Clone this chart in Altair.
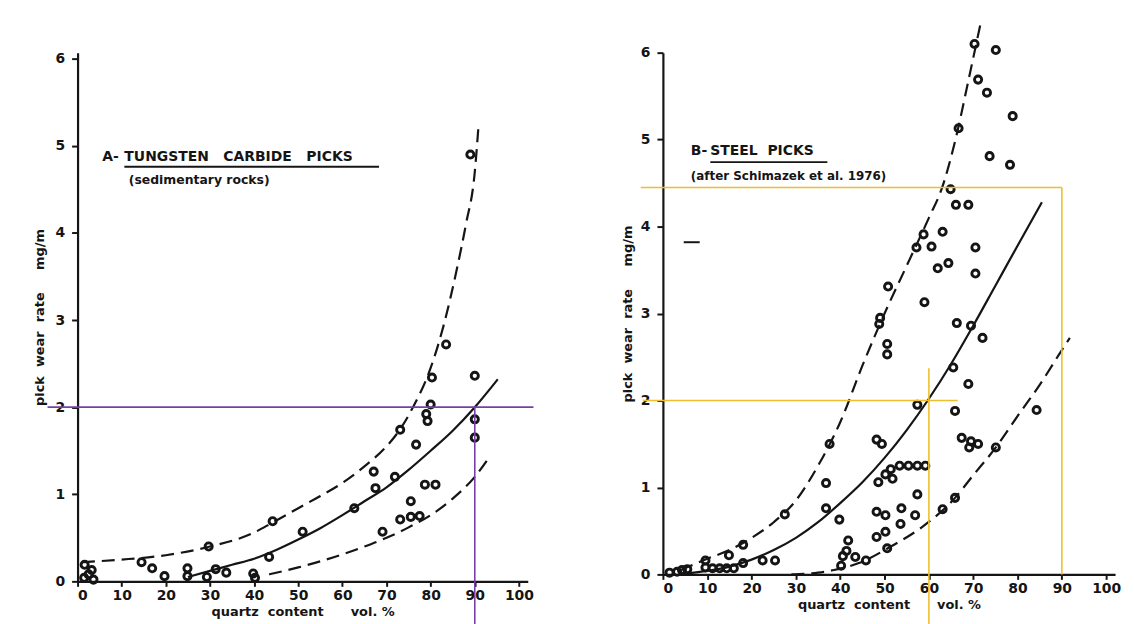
import altair as alt
import pandas as pd

FONT = "DejaVu Sans"
INK = "#151515"
PURPLE = "#7440a8"
YELLOW = "#eebf2c"

# ---------------- Panel A : tungsten carbide picks ----------------
a_pts_x = [90, 90, 90, 89, 83.5, 80.3, 80, 79, 79.3, 73.1, 76.7, 67.1, 67.5, 71.9, 78.7, 81.1,
           75.5, 73.1, 75.5, 77.5, 69.1, 62.7, 51.0, 44.2, 43.4, 29.7, 14.5, 16.9, 1.6, 3.2,
           1.5, 3.6, 19.7, 24.9, 24.9, 29.3, 31.3, 33.7, 39.8, 40.2, 2.5]
a_pts_y = [2.36, 1.86, 1.65, 4.9, 2.72, 2.34, 2.03, 1.92, 1.84, 1.74, 1.57, 1.26, 1.07, 1.2, 1.11, 1.11,
           0.92, 0.71, 0.74, 0.75, 0.57, 0.84, 0.57, 0.69, 0.28, 0.40, 0.22, 0.15, 0.19, 0.13,
           0.04, 0.02, 0.06, 0.15, 0.06, 0.05, 0.14, 0.10, 0.09, 0.04, 0.08]

a_mid_x = [25, 30, 35, 40, 45, 50, 55, 60, 65, 70, 75, 80, 85, 90, 95.2]
a_mid_y = [0.05, 0.12, 0.19, 0.26, 0.36, 0.48, 0.61, 0.76, 0.92, 1.08, 1.28, 1.5, 1.73, 2.0, 2.32]
a_up_x = [1, 10, 20, 30, 40, 44, 50, 55, 60, 65, 70, 73, 76, 80, 83, 86, 88, 90, 90.8]
a_up_y = [0.22, 0.25, 0.3, 0.4, 0.56, 0.67, 0.84, 0.98, 1.13, 1.32, 1.55, 1.74, 2.0, 2.45, 2.95, 3.6, 4.1, 4.7, 5.2]
a_lo_x = [43.4, 50, 55, 60, 65, 70, 75, 80, 85, 90, 93.6]
a_lo_y = [0.08, 0.16, 0.23, 0.31, 0.4, 0.5, 0.62, 0.76, 0.95, 1.2, 1.45]

# guide lines (x, x2, y, y2)
a_guide_x = [-6.8, 90]
a_guide_x2 = [103.3, 90]
a_guide_y = [2, 2]
a_guide_y2 = [2, -0.5]

# ---------------- Panel B : steel picks ----------------
b_pts_x = [70.3, 75.1, 71.1, 73.1, 78.9, 66.7, 73.7, 78.3, 64.9, 66.1, 68.9, 58.8, 63.1, 57.2, 60.6,
           70.5, 62.0, 64.4, 70.5, 50.8, 59.0, 49.0, 48.8, 50.6, 50.6, 66.3, 69.5, 72.1, 65.5, 68.9,
           57.4, 65.9, 84.3, 48.2, 49.4, 67.4, 69.5, 71.1, 69.1, 75.1, 37.6, 48.6, 50.2, 51.4, 53.4,
           55.4, 57.4, 59.2, 51.8, 36.8, 57.4, 65.9, 36.8, 27.5, 39.8, 48.2, 50.2, 53.8, 53.6, 56.9,
           63.1, 48.2, 50.2, 50.6, 41.8, 41.4, 40.6, 40.2, 43.4, 45.8, 18.1, 14.9, 22.5, 25.3, 18.1,
           9.6, 9.6, 11.2, 12.8, 14.4, 16.0, 4.3, 5.5, 3.2, 1.5]
b_pts_y = [6.10, 6.03, 5.69, 5.54, 5.27, 5.13, 4.81, 4.71, 4.43, 4.25, 4.25, 3.91, 3.94, 3.76, 3.77,
           3.76, 3.52, 3.58, 3.46, 3.31, 3.13, 2.95, 2.88, 2.65, 2.53, 2.89, 2.86, 2.72, 2.38, 2.19,
           1.95, 1.88, 1.89, 1.55, 1.50, 1.57, 1.53, 1.50, 1.46, 1.46, 1.50, 1.06, 1.15, 1.21, 1.25,
           1.25, 1.25, 1.25, 1.10, 1.05, 0.92, 0.88, 0.76, 0.69, 0.63, 0.72, 0.68, 0.76, 0.58, 0.68,
           0.75, 0.43, 0.49, 0.30, 0.39, 0.27, 0.21, 0.10, 0.20, 0.16, 0.34, 0.22, 0.16, 0.16, 0.13,
           0.16, 0.08, 0.07, 0.07, 0.07, 0.07, 0.05, 0.06, 0.03, 0.02]

b_mid_x = [5, 10, 15, 20, 25, 30, 35, 40, 45, 50, 55, 60, 65, 70, 75, 80, 85.5]
b_mid_y = [0.01, 0.04, 0.09, 0.17, 0.28, 0.42, 0.6, 0.82, 1.06, 1.34, 1.66, 2.02, 2.42, 2.86, 3.32, 3.78, 4.28]
b_up_x = [4, 10, 15, 20, 25, 30, 35, 40, 45, 50, 55, 60, 63, 66, 69, 71.8]
b_up_y = [0.05, 0.18, 0.28, 0.42, 0.6, 0.85, 1.25, 1.75, 2.4, 3.0, 3.55, 4.1, 4.45, 5.0, 5.7, 6.37]
b_lo_x = [29, 35, 38.6, 44.2, 51.4, 58.6, 65.9, 70, 75.1, 80, 85, 90, 91.8]
b_lo_y = [0.0, 0.02, 0.05, 0.13, 0.32, 0.55, 0.88, 1.14, 1.46, 1.82, 2.18, 2.58, 2.72]

b_guide_x = [-5, 90, -4.5, 60]
b_guide_x2 = [90, 90, 66.5, 60]
b_guide_y = [4.45, 4.45, 2, 2.37]
b_guide_y2 = [4.45, 0, 2, -0.57]

b_stray_x, b_stray_x2, b_stray_y = [4.7], [8.3], [3.82]

# ---------------- annotations ----------------
a_txt = ["A-", "TUNGSTEN\u00a0\u00a0 CARBIDE\u00a0\u00a0 PICKS", "(sedimentary rocks)"]
a_txt_x = [5.6, 10.6, 11.6]
a_txt_y = [4.87, 4.87, 4.61]
a_txt_size = [14, 14, 12.5]
a_ul_x, a_ul_x2, a_ul_y = [10.6], [68.3], [4.76]

b_txt = ["B-", "STEEL\u00a0 PICKS", "(after Schimazek et al. 1976)"]
b_txt_x = [6.3, 10.7, 6.3]
b_txt_y = [4.87, 4.87, 4.58]
b_txt_size = [14, 14, 12]
b_ul_x, b_ul_x2, b_ul_y = [10.7], [37.1], [4.74]

X_TICKS = list(range(0, 101, 10))
Y_TICKS = list(range(0, 7))


def panel(px, py, mid, up, lo, guides, guide_color, txt, ul, ydom, w, h, title_pad, extra=None):
    xs = alt.Scale(domain=[0, 102], nice=False, zero=False)
    ys = alt.Scale(domain=ydom, nice=False, zero=False)
    xax = alt.Axis(values=X_TICKS, title="quartz\u00a0 content\u00a0\u00a0\u00a0\u00a0\u00a0 vol. %",
                   grid=False, tickSize=5, labelPadding=2, titlePadding=3, format="d")
    yax = alt.Axis(values=Y_TICKS, title="pick\u00a0 wear\u00a0 rate\u00a0\u00a0\u00a0\u00a0 mg/m",
                   grid=False, tickSize=6, labelPadding=7, titlePadding=title_pad, format="d")

    pts = pd.DataFrame({"x": px, "y": py})
    base_pts = alt.Chart(pts).mark_point(shape="circle", filled=False, size=52, opacity=1,
                                         strokeWidth=2.9, color=INK).encode(
        x=alt.X("x:Q", scale=xs, axis=xax), y=alt.Y("y:Q", scale=ys, axis=yax))

    layers = [base_pts]

    def curve(xv, yv, dash):
        d = pd.DataFrame({"x": xv, "y": yv})
        kw = dict(color=INK, strokeWidth=2.2, interpolate="monotone")
        if dash:
            kw["strokeDash"] = [13, 7]
        return alt.Chart(d).mark_line(**kw).encode(x="x:Q", y="y:Q")

    layers += [curve(*mid, False), curve(*up, True), curve(*lo, True)]

    g = pd.DataFrame({"x": guides[0], "x2": guides[1], "y": guides[2], "y2": guides[3]})
    layers.append(alt.Chart(g).mark_rule(color=guide_color, strokeWidth=1.6).encode(
        x="x:Q", x2="x2:Q", y="y:Q", y2="y2:Q"))

    t = pd.DataFrame({"x": txt[1], "y": txt[2], "t": txt[0], "s": txt[3]})
    layers.append(alt.Chart(t).mark_text(align="left", baseline="middle", font=FONT,
                                         fontWeight="bold", color=INK).encode(
        x="x:Q", y="y:Q", text="t:N", size=alt.Size("s:Q", scale=None, legend=None)))

    u = pd.DataFrame({"x": ul[0], "x2": ul[1], "y": ul[2]})
    layers.append(alt.Chart(u).mark_rule(color=INK, strokeWidth=1.8).encode(
        x="x:Q", x2="x2:Q", y="y:Q"))

    if extra is not None:
        e = pd.DataFrame({"x": extra[0], "x2": extra[1], "y": extra[2]})
        layers.append(alt.Chart(e).mark_rule(color=INK, strokeWidth=2).encode(
            x="x:Q", x2="x2:Q", y="y:Q"))

    return alt.layer(*layers).properties(width=w, height=h)


left = panel(a_pts_x, a_pts_y, (a_mid_x, a_mid_y), (a_up_x, a_up_y), (a_lo_x, a_lo_y),
             (a_guide_x, a_guide_x2, a_guide_y, a_guide_y2), PURPLE,
             (a_txt, a_txt_x, a_txt_y, a_txt_size), (a_ul_x, a_ul_x2, a_ul_y),
             [0, 6.07], 453, 532, 9)
right = panel(b_pts_x, b_pts_y, (b_mid_x, b_mid_y), (b_up_x, b_up_y), (b_lo_x, b_lo_y),
              (b_guide_x, b_guide_x2, b_guide_y, b_guide_y2), YELLOW,
              (b_txt, b_txt_x, b_txt_y, b_txt_size), (b_ul_x, b_ul_x2, b_ul_y),
              [0, 6.0], 455, 525, 6, extra=(b_stray_x, b_stray_x2, b_stray_y))

chart = alt.hconcat(left, right, spacing=136, bounds="flush").properties(
    padding={"left": 25, "top": 6, "right": 5, "bottom": 0},
    background="white",
).configure_view(stroke=None).configure_axis(
    domainColor=INK, domainWidth=2.2, tickColor=INK, tickWidth=2,
    labelFont=FONT, labelFontSize=14, labelFontWeight="bold", labelColor=INK,
    titleFont=FONT, titleFontSize=13, titleFontWeight="bold", titleColor=INK,
)

chart.save("out.html", embed_options={"renderer": "svg", "actions": False})
